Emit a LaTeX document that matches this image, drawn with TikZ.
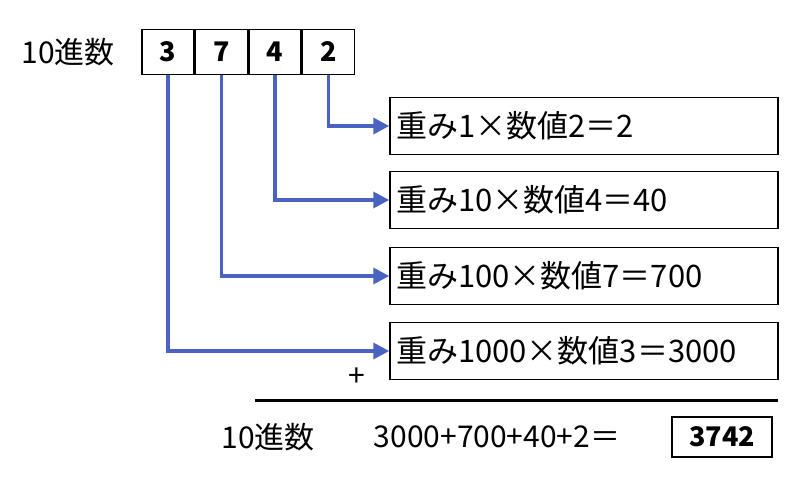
\documentclass[tikz,border=0pt]{standalone}
\usepackage{fontspec}
\setmainfont{Noto Sans CJK JP}
\usetikzlibrary{positioning,arrows.meta}
\definecolor{wireblue}{HTML}{4A62C0}
\begin{document}
\begin{tikzpicture}
			[x=1pt,y=-1pt,
			%Styles
			digit/.style={draw,line width=1.5pt,minimum width=52pt,minimum height=45pt,inner sep=0pt,font=\fontsize{27}{27}\selectfont\bfseries},
			term/.style={draw,line width=1.5pt,minimum width=388pt,minimum height=57pt,inner sep=6pt,text width=376pt,font=\fontsize{31}{31}\selectfont},
			wire/.style={wireblue,line width=3.5pt,-{Triangle[length=16pt,width=16pt]}},
			plain text/.style={font=\fontsize{30}{30}\selectfont}
			]
			\useasboundingbox (0,0) rectangle (800,489);
			
			%The digits
			\node [plain text] (lab) at (68,52) {10進数};
			\node [digit] (d3) at (168,52) {3};
			\node [digit,right=0pt of d3] (d7) {7};
			\node [digit,right=0pt of d7] (d4) {4};
			\node [digit,right=0pt of d4] (d2) {2};
			
			%The terms
			\node [term] (t1) at (584,126) {重み1×数値2＝2};
			\node [term] (t2) at (584,200) {重み10×数値4＝40};
			\node [term] (t3) at (584,276) {重み100×数値7＝700};
			\node [term] (t4) at (584,351) {重み1000×数値3＝3000};
			
			\draw[wire] (d2.south) |- (t1.west);
			\draw[wire] (d4.south) |- (t2.west);
			\draw[wire] (d7.south) |- (t3.west);
			\draw[wire] (d3.south) |- (t4.west);
			
			%The sum
			\node [plain text] (plus) at (357,377) {+};
			\coordinate (ls) at (255,400);
			\coordinate (le) at (778,400);
			\draw[line width=3pt] (ls) -- (le);
			\node [plain text] (lab2) at (268,437) {10進数};
			\node [plain text] (sum) at (497,437) {3000+700+40+2＝};
			\node [draw,line width=2pt,minimum width=100pt,minimum height=40pt,font=\fontsize{27}{27}\selectfont\bfseries] (res) at (722,437) {3742};
		\end{tikzpicture}
\end{document}
